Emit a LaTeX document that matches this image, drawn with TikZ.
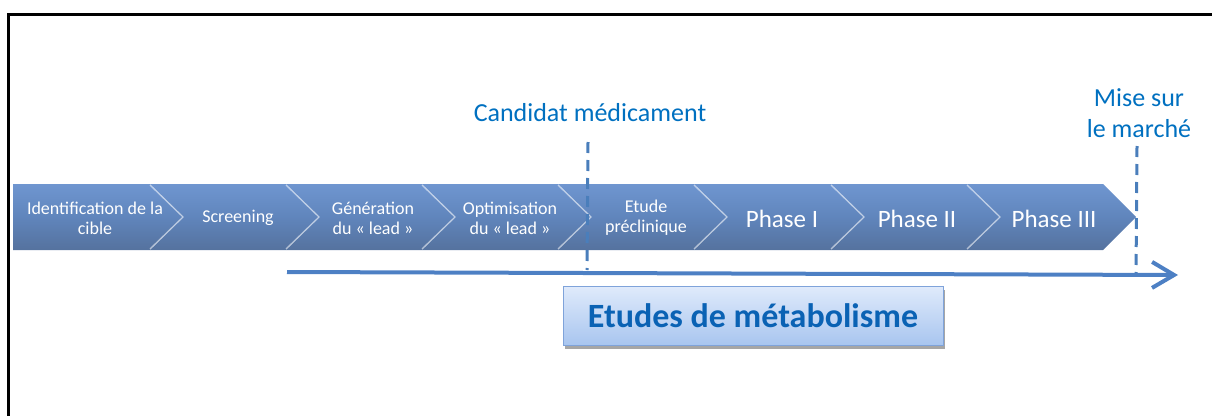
\documentclass[tikz,border=0pt]{standalone}
\usepackage{fontspec}
\setmainfont{Carlito}
\usetikzlibrary{arrows.meta,shadows}
\definecolor{chevTop}{HTML}{6F96D0}
\definecolor{chevMid}{HTML}{6085BC}
\definecolor{chevBot}{HTML}{55729E}
\definecolor{lblue}{HTML}{0070C0}
\definecolor{dashblue}{HTML}{4A7EBB}
\definecolor{arrowblue}{HTML}{4D80C4}
\definecolor{boxTop}{HTML}{DFEAFB}
\definecolor{boxBot}{HTML}{A8C5EF}
\definecolor{boxLine}{HTML}{7FA3DA}
\definecolor{boxText}{HTML}{0A62B4}
\begin{document}
\begin{tikzpicture}[x=1pt,y=-1pt,
 chev/.style={top color=chevTop, bottom color=chevBot, middle color=chevMid, draw=none},
 edge/.style={draw=white, draw opacity=0.55, line width=1.3pt},
 smalltxt/.style={text=white, font=\fontsize{18}{20}\selectfont, align=center, inner sep=0pt},
 bigtxt/.style={text=white, font=\fontsize{25}{30}\selectfont, inner sep=0pt},
 milestone/.style={text=lblue, font=\fontsize{26}{31}\selectfont, align=center, inner sep=0pt},
 milestoneline/.style={draw=dashblue, line width=3pt, dash pattern=on 11pt off 7pt},
 metbox/.style={draw=boxLine, line width=1pt, top color=boxTop, bottom color=boxBot,
   minimum width=380pt, minimum height=59pt, inner sep=0pt,
   text=boxText, font=\fontsize{34}{40}\selectfont\bfseries,
   drop shadow={shadow xshift=2pt, shadow yshift=-3pt, opacity=0.35, fill=black}},
 frame/.style={draw=black, line width=3pt},
]
\useasboundingbox (0,0) rectangle (1212,415);
% outer frame (only top and left visible)
\draw[frame] (8,425) -- (8,14) -- (1222,14);

% chevrons
\path[chev] (13,184) -- (150,184) -- (183,217) -- (150,250) -- (13,250) -- cycle;
\foreach \l/\s in {150/286, 286/422, 422/558, 558/694, 694/831, 831/967, 967/1103}{
  \path[chev] (\l,184) -- (\s,184) -- (\s+33,217) -- (\s,250) -- (\l,250) -- (\l+33,217) -- cycle;
}
\foreach \s in {150, 286, 422, 558, 694, 831, 967}{
  \draw[edge] (\s,185) -- (\s+33,217) -- (\s,249);
}

% chevron labels
\node[smalltxt] (c1) at (95,218) {Identification de la\\cible};
\node[smalltxt] (c2) at (238,218) {Screening};
\node[smalltxt] (c3) at (373,218) {Génération\\du « lead »};
\node[smalltxt] (c4) at (510,218) {Optimisation\\du « lead »};
\node[smalltxt] (c5) at (646,218) {Etude\\préclinique};
\node[bigtxt] (c6) at (782,219) {Phase I};
\node[bigtxt] (c7) at (917,219) {Phase II};
\node[bigtxt] (c8) at (1054,219) {Phase III};

% milestones
\node[milestone] (cand) at (590,113) {Candidat médicament};
\node[milestone] (mise) at (1139,113) {Mise sur\\le marché};
\coordinate (candtop) at (588,142);
\coordinate (candbot) at (587,270);
\coordinate (misetop) at (1137,146);
\coordinate (misebot) at (1136,275);
\draw[milestoneline] (candtop) -- (candbot);
\draw[milestoneline] (misetop) -- (misebot);

% timeline arrow
\coordinate (aS) at (287,272);
\coordinate (aE) at (1178,275);
\draw[arrowblue, line width=4pt, -{Straight Barb[length=22pt, width=26pt]}] (aS) -- (aE);

% metabolism box
\node[metbox] (met) at (753,316) {Etudes de métabolisme};
\end{tikzpicture}
\end{document}
